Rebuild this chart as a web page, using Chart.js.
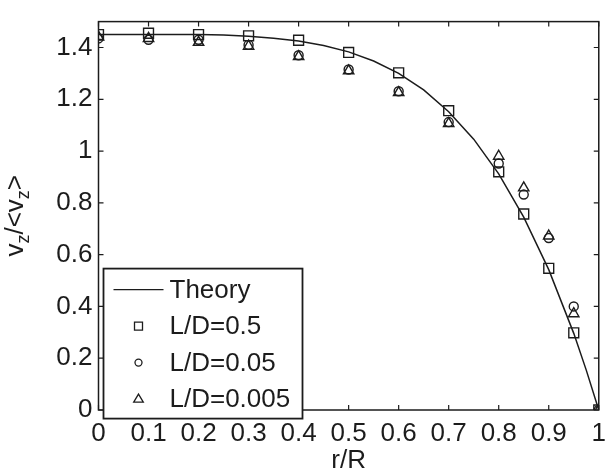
<!DOCTYPE html>
<html>
<head>
<meta charset="utf-8">
<script src="https://cdn.jsdelivr.net/npm/chart.js@4.4.0/dist/chart.umd.min.js"></script>
<style>
  html, body { margin: 0; padding: 0; background: #fff; }
  #wrap { width: 614px; height: 476px; }
</style>
</head>
<body>
<div id="wrap"><canvas id="profileChart" width="614" height="476"></canvas></div>
<script>
const theoryR = [0, 0.1, 0.2, 0.25, 0.3, 0.35, 0.4, 0.45, 0.5, 0.55, 0.6, 0.65, 0.7, 0.75, 0.8, 0.85, 0.9, 0.95, 0.975, 1];
const theoryV = [1.45, 1.45, 1.45, 1.448, 1.443, 1.436, 1.425, 1.408, 1.383, 1.348, 1.300, 1.236, 1.152, 1.046, 0.912, 0.745, 0.542, 0.296, 0.154, 0];

// measured profiles
const measR = [0, 0.1, 0.2, 0.3, 0.4, 0.5, 0.6, 0.7, 0.8, 0.85, 0.9, 0.95, 1];
const ld05 = [1.45, 1.455, 1.45, 1.445, 1.428, 1.381, 1.302, 1.156, 0.92, 0.757, 0.547, 0.298, 0];
const ld005 = [1.435, 1.43, 1.43, 1.41, 1.37, 1.315, 1.231, 1.112, 0.952, 0.832, 0.664, 0.40, 0];
const ld0005 = [1.44, 1.435, 1.42, 1.405, 1.365, 1.31, 1.226, 1.106, 0.98, 0.858, 0.672, 0.372, 0];

const seriesLabels = ['Theory', 'L/D=0.5', 'L/D=0.05', 'L/D=0.005'];
const xTicks = [0, 0.1, 0.2, 0.3, 0.4, 0.5, 0.6, 0.7, 0.8, 0.9, 1];
const yTicks = [0, 0.2, 0.4, 0.6, 0.8, 1, 1.2, 1.4];

const ink = '#1c1c1c';
const fontFamily = '"Liberation Sans", Arial, Helvetica, sans-serif';

Chart.defaults.font.family = fontFamily;
Chart.defaults.font.size = 26;
Chart.defaults.color = ink;

function toPoints(xs, ys) {
  return xs.map((x, i) => ({ x: x, y: ys[i] }));
}

// box around the plot and MATLAB style inward ticks
const frameTicks = {
  id: 'frameTicks',
  afterDatasetsDraw(chart) {
    const { ctx, chartArea: a, scales } = chart;
    ctx.save();
    ctx.strokeStyle = ink;
    ctx.lineWidth = 1.5;
    ctx.strokeRect(a.left, a.top, a.right - a.left, a.bottom - a.top);
    ctx.lineWidth = 1.2;
    ctx.beginPath();
    scales.x.ticks.forEach(t => {
      const px = scales.x.getPixelForValue(t.value);
      ctx.moveTo(px, a.bottom); ctx.lineTo(px, a.bottom - 5);
      ctx.moveTo(px, a.top); ctx.lineTo(px, a.top + 5);
    });
    scales.y.ticks.forEach(t => {
      const py = scales.y.getPixelForValue(t.value);
      ctx.moveTo(a.left, py); ctx.lineTo(a.left + 5, py);
      ctx.moveTo(a.right, py); ctx.lineTo(a.right - 5, py);
    });
    ctx.stroke();
    ctx.restore();
  }
};

function drawMarker(ctx, style, x, y) {
  ctx.beginPath();
  if (style === 'rect') {
    ctx.rect(x - 4, y - 4, 8, 8);
  } else if (style === 'circle') {
    ctx.arc(x, y, 3.5, 0, Math.PI * 2);
  } else if (style === 'triangle') {
    ctx.moveTo(x, y - 5);
    ctx.lineTo(x + 4.8, y + 3);
    ctx.lineTo(x - 4.8, y + 3);
    ctx.closePath();
  }
  ctx.stroke();
}

// legend box in the lower left corner of the plot
const boxLegend = {
  id: 'boxLegend',
  afterDraw(chart) {
    const { ctx, chartArea: a } = chart;
    const x0 = a.left + 5, y0 = a.top + 247, w = 199, h = 150;
    ctx.save();
    ctx.fillStyle = '#fff';
    ctx.fillRect(x0, y0, w, h);
    ctx.strokeStyle = ink;
    ctx.lineWidth = 1.8;
    ctx.strokeRect(x0, y0, w, h);
    ctx.font = '26px ' + fontFamily;
    ctx.textBaseline = 'middle';
    ctx.textAlign = 'left';
    chart.data.datasets.forEach((ds, i) => {
      const cy = y0 + 21 + i * 36.5;
      ctx.strokeStyle = ink;
      ctx.lineWidth = 1.3;
      if (ds.showLine) {
        ctx.beginPath();
        ctx.moveTo(x0 + 10, cy);
        ctx.lineTo(x0 + 60, cy);
        ctx.stroke();
      } else {
        drawMarker(ctx, ds.pointStyle, x0 + 35, cy);
      }
      ctx.fillStyle = ink;
      ctx.fillText(ds.label, x0 + 66, cy + 1);
    });
    ctx.restore();
  }
};

// rotated y label with subscripts: v_z/<v_z>
const yLabel = {
  id: 'yLabel',
  afterDraw(chart) {
    const { ctx, chartArea: a } = chart;
    const parts = [['v', 0], ['z', 1], ['/<v', 0], ['z', 1], ['>', 0]];
    const big = '26px ' + fontFamily, small = '18px ' + fontFamily;
    ctx.save();
    ctx.fillStyle = ink;
    ctx.textBaseline = 'alphabetic';
    ctx.textAlign = 'left';
    let total = 0;
    parts.forEach(p => { ctx.font = p[1] ? small : big; total += ctx.measureText(p[0]).width; });
    ctx.translate(23, (a.top + a.bottom) / 2);
    ctx.rotate(-Math.PI / 2);
    let x = -total / 2;
    parts.forEach(p => {
      ctx.font = p[1] ? small : big;
      ctx.fillText(p[0], x, p[1] ? 6 : 0);
      x += ctx.measureText(p[0]).width;
    });
    ctx.restore();
  }
};

const markerStyle = {
  showLine: false,
  borderColor: ink,
  backgroundColor: 'rgba(0,0,0,0)',
  pointBorderWidth: 1.4,
  order: 1
};

new Chart(document.getElementById('profileChart'), {
  type: 'scatter',
  data: {
    datasets: [
      {
        label: seriesLabels[0],
        data: toPoints(theoryR, theoryV),
        showLine: true,
        borderColor: ink,
        borderWidth: 1.5,
        pointRadius: 0,
        order: 2
      },
      { ...markerStyle, label: seriesLabels[1], data: toPoints(measR, ld05), pointStyle: 'rect', pointRadius: 7 },
      { ...markerStyle, label: seriesLabels[2], data: toPoints(measR, ld005), pointStyle: 'circle', pointRadius: 4.5 },
      { ...markerStyle, label: seriesLabels[3], data: toPoints(measR, ld0005), pointStyle: 'triangle', pointRadius: 6 }
    ]
  },
  options: {
    responsive: false,
    animation: false,
    layout: { padding: { left: 0, right: 5, top: 10, bottom: 0 } },
    plugins: {
      legend: { display: false },
      tooltip: { enabled: false }
    },
    scales: {
      x: {
        type: 'linear',
        min: 0,
        max: 1,
        grid: { display: false, drawTicks: false },
        border: { display: false },
        afterBuildTicks: scale => { scale.ticks = xTicks.map(v => ({ value: v })); },
        afterFit: scale => { scale.height = 66; },
        ticks: { padding: 8, maxRotation: 0, autoSkip: false, callback: v => String(v) },
        title: { display: true, text: 'r/R', padding: { top: 0, bottom: 0 } }
      },
      y: {
        type: 'linear',
        min: 0,
        max: 1.5,
        grid: { display: false, drawTicks: false },
        border: { display: false },
        afterBuildTicks: scale => { scale.ticks = yTicks.map(v => ({ value: v })); },
        afterFit: scale => { scale.width = 98.5; },
        ticks: { padding: 6, autoSkip: false, callback: v => String(v) }
      }
    }
  },
  plugins: [frameTicks, boxLegend, yLabel]
});
</script>
</body>
</html>
